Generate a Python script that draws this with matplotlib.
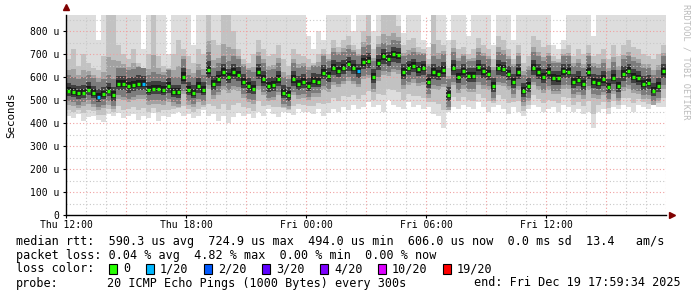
import numpy as np
import matplotlib
matplotlib.use('Agg')
import matplotlib.pyplot as plt
from matplotlib.patches import Rectangle

plt.rcParams['font.family'] = ['DejaVu Sans Mono']

# 15 minute slots, Thu 12:00 .. Fri 17:45, values in microseconds
step = 0.25
median = [540, 535, 530, 530, 545, 530, 515, 525, 540, 520, 570, 570, 560, 565, 570, 570, 545, 550, 550, 545, 560, 535, 535, 600,
          545, 530, 560, 545, 630, 570, 590, 620, 600, 620, 610, 580, 560, 550, 620, 590, 560, 565, 590, 530, 520, 590, 570, 580,
          560, 584, 580, 619, 605, 640, 627, 640, 656, 640, 625, 665, 670, 600, 660, 690, 680, 700, 695, 620, 640, 650, 633, 640,
          580, 620, 615, 630, 520, 640, 600, 625, 605, 605, 642, 625, 615, 560, 640, 635, 615, 580, 620, 540, 560, 640, 620, 600,
          620, 595, 594, 625, 623, 580, 589, 570, 620, 580, 575, 590, 555, 598, 561, 613, 627, 600, 594, 570, 575, 540, 560, 625]
q1 = [495, 490, 480, 490, 500, 485, 470, 480, 495, 475, 520, 515, 505, 515, 520, 520, 495, 500, 500, 495, 505, 490, 485, 540,
      495, 485, 505, 495, 565, 520, 535, 560, 545, 560, 555, 525, 505, 500, 560, 535, 510, 515, 535, 485, 475, 535, 520, 525,
      515, 530, 530, 560, 550, 580, 570, 585, 600, 585, 570, 605, 610, 550, 600, 625, 620, 635, 630, 565, 580, 590, 575, 580,
      525, 565, 560, 570, 470, 580, 545, 565, 550, 550, 580, 565, 560, 510, 580, 575, 560, 525, 560, 490, 510, 580, 560, 545,
      560, 540, 540, 565, 565, 525, 535, 520, 560, 525, 520, 535, 505, 540, 510, 555, 565, 545, 540, 520, 520, 495, 510, 565]
q3 = [610, 600, 590, 600, 610, 595, 580, 590, 610, 590, 640, 640, 630, 635, 645, 640, 610, 620, 615, 610, 630, 600, 600, 680,
      610, 600, 630, 610, 710, 640, 660, 690, 670, 690, 680, 650, 630, 620, 690, 660, 630, 635, 660, 600, 590, 660, 640, 650,
      630, 650, 650, 690, 670, 710, 700, 710, 720, 710, 690, 730, 740, 670, 730, 750, 740, 760, 755, 690, 700, 710, 700, 700,
      650, 690, 680, 700, 590, 710, 670, 690, 670, 670, 710, 690, 680, 630, 710, 700, 680, 650, 690, 610, 630, 710, 690, 670,
      690, 660, 660, 690, 690, 650, 660, 640, 690, 650, 640, 660, 625, 665, 630, 680, 690, 670, 660, 640, 640, 610, 630, 690]
hi2 = [680, 720, 650, 700, 660, 640, 630, 690, 870, 870, 740, 700, 680, 720, 660, 640, 700, 870, 690, 650, 640, 700, 760, 720,
       690, 660, 720, 700, 870, 760, 740, 870, 870, 800, 720, 680, 660, 700, 760, 720, 690, 700, 740, 680, 650, 720, 700, 690,
       680, 660, 700, 720, 700, 760, 730, 760, 780, 740, 720, 800, 870, 720, 780, 870, 870, 870, 820, 740, 760, 770, 730, 720,
       680, 870, 760, 740, 640, 760, 720, 730, 700, 720, 770, 740, 720, 680, 780, 760, 720, 680, 740, 660, 690, 780, 760, 730,
       740, 690, 680, 720, 740, 690, 720, 700, 740, 690, 700, 720, 680, 740, 690, 740, 760, 730, 720, 700, 690, 680, 700, 740]
lo = [430, 420, 440, 410, 425, 430, 415, 405, 440, 430, 445, 420, 430, 440, 415, 430, 420, 445, 410, 430, 425, 440, 450, 430,
      440, 420, 430, 455, 430, 440, 410, 430, 400, 425, 445, 430, 440, 420, 450, 430, 460, 440, 425, 450, 445, 435, 460, 450,
      450, 440, 460, 430, 445, 460, 450, 470, 455, 480, 460, 470, 490, 470, 480, 450, 500, 480, 470, 460, 490, 470, 480, 460,
      470, 440, 430, 380, 450, 470, 460, 480, 470, 460, 490, 470, 450, 470, 480, 460, 440, 470, 450, 430, 460, 480, 470, 450,
      460, 470, 450, 480, 470, 450, 460, 440, 450, 380, 450, 460, 440, 470, 460, 480, 470, 450, 480, 470, 460, 480, 470, 470]
hi = [870, 870, 870, 870, 870, 870, 760, 870, 870, 870, 870, 870, 870, 870, 870, 720, 870, 870, 870, 870, 700, 870, 870, 870,
      870, 740, 870, 870, 870, 870, 870, 870, 870, 870, 870, 870, 870, 870, 870, 870, 870, 870, 870, 870, 870, 870, 870, 870,
      780, 720, 800, 760, 870, 870, 870, 870, 870, 800, 870, 870, 870, 800, 870, 870, 870, 870, 870, 790, 870, 870, 870, 760,
      730, 870, 870, 870, 760, 870, 870, 870, 780, 870, 870, 870, 870, 740, 870, 870, 870, 760, 870, 870, 870, 870, 870, 870,
      870, 740, 720, 760, 870, 870, 870, 870, 870, 780, 870, 870, 870, 870, 870, 870, 870, 870, 870, 870, 870, 870, 870, 870]
loss = [0, 0, 0, 0, 0, 0, 1, 0, 0, 0, 0, 0, 0, 0, 0, 1, 0, 0, 0, 0, 0, 0, 0, 0,
        0, 0, 0, 0, 0, 0, 0, 0, 0, 0, 0, 0, 0, 0, 0, 0, 0, 0, 0, 0, 0, 0, 0, 0,
        0, 0, 0, 0, 0, 0, 0, 0, 0, 0, 1, 0, 0, 0, 0, 0, 0, 0, 0, 0, 0, 0, 0, 0,
        0, 0, 0, 0, 0, 0, 0, 0, 0, 0, 0, 0, 0, 0, 0, 0, 0, 0, 0, 0, 0, 0, 0, 0,
        0, 0, 0, 0, 0, 0, 0, 0, 0, 0, 0, 0, 0, 0, 0, 0, 0, 0, 0, 0, 0, 0, 0, 0]

loss_labels = ['0', '1/20', '2/20', '3/20', '4/20', '10/20', '19/20']
loss_levels = [0, 1, 2, 3, 4, 10, 19]
loss_colors = ['#26ff00', '#00b8ff', '#0059ff', '#5e00ff', '#7e00ff', '#dd00ff', '#ff0000']

tick_pos = [0, 6, 12, 18, 24]
tick_labels = ['Thu 12:00', 'Thu 18:00', 'Fri 00:00', 'Fri 06:00', 'Fri 12:00']

stats_rtt = 'median rtt:  590.3 us avg  724.9 us max  494.0 us min  606.0 us now  0.0 ms sd  13.4   am/s'
stats_loss = 'packet loss: 0.04 % avg  4.82 % max  0.00 % min  0.00 % now'
probe_txt = '20 ICMP Echo Pings (1000 Bytes) every 300s'
end_txt = 'end: Fri Dec 19 17:59:34 2025'

W, H = 697, 297
fig = plt.figure(figsize=(W / 100, H / 100), dpi=100)
ax = fig.add_axes([66 / W, 1 - 215 / H, 600 / W, 200 / H])
fs = 8.5
fs_tick = 7.0

t = np.arange(len(median)) * step
med = np.array(median, float)
lo_a, hi_a, hi2_a, q1_a, q3_a = [np.array(v, float) for v in (lo, hi, hi2, q1, q3)]

# smoke layers, outer (light) to inner (dark)
def smoke(bot, top, col, z):
    ax.bar(t, top - bot, bottom=bot, width=step, align='edge', color=col, lw=0, zorder=z)

smoke(lo_a, hi_a, '#dddddd', 1.0)
smoke(lo_a + (q1_a - lo_a) * 0.4, hi2_a, '#c2c2c2', 1.1)
smoke(q1_a - 15, q3_a + (hi2_a - q3_a) * 0.3, '#a2a2a2', 1.2)
smoke(q1_a, q3_a, '#7c7c7c', 1.3)
smoke((q1_a + med) / 2, (q3_a + med) / 2, '#404040', 1.4)
smoke((3 * med + q1_a) / 4, (3 * med + q3_a) / 4, '#1c1c1c', 1.5)

# grid on top of the smoke
for v in range(50, 870, 50):
    if v % 100:
        ax.axhline(v, color='#c8c8c8', lw=0.8, ls=(0, (1, 2)), zorder=2)
    else:
        ax.axhline(v, color='#f0a0a0', lw=0.8, ls=(0, (1, 2)), zorder=2.1)
for h in range(1, 31):
    if h % 3:
        ax.axvline(h, color='#c8c8c8', lw=0.8, ls=(0, (1, 2)), zorder=2)
    else:
        ax.axvline(h, color='#f0a0a0', lw=0.8, ls=(0, (1, 2)), zorder=2.1)

# median coloured by loss
col_of = dict(zip(loss_levels, loss_colors))
mcols = [col_of[l] for l in loss]
ax.hlines(med, t + 0.05, t + step - 0.05, colors=mcols, lw=2.4, zorder=3)

ax.set_xlim(0, 30)
ax.set_ylim(0, 870)
ax.set_xticks(tick_pos)
ax.set_xticklabels(tick_labels, fontsize=fs_tick)
ax.set_yticks(range(0, 801, 100))
ax.set_yticklabels(['0'] + ['%d u' % v for v in range(100, 801, 100)], fontsize=fs_tick)
ax.tick_params(axis='y', length=2, width=0.8, pad=2.5)
ax.tick_params(axis='x', length=2, width=0.8, pad=1.5)
for s in ('top', 'right'):
    ax.spines[s].set_visible(False)
for s in ('left', 'bottom'):
    ax.spines[s].set_linewidth(1.0)
    ax.spines[s].set_zorder(4)
ax.plot([0], [1.04], marker='^', ms=4, color='#800000', transform=ax.transAxes, clip_on=False)
ax.plot([1.01], [0], marker='>', ms=4, color='#800000', transform=ax.transAxes, clip_on=False)

fig.text(11 / W, 1 - 115 / H, 'Seconds', rotation=90, ha='center', va='center', fontsize=7.8)
fig.text(686 / W, 1 - 4 / H, 'RRDTOOL / TOBI OETIKER', rotation=270, ha='center', va='top',
         fontsize=6.2, color='#bbbbbb')

# legend block
x0 = 16 / W
fig.text(x0, 1 - 241 / H, stats_rtt, fontsize=fs, va='center')
fig.text(x0, 1 - 255 / H, stats_loss, fontsize=fs, va='center')
fig.text(x0, 1 - 269 / H, 'loss color:', fontsize=fs, va='center')
fig.text(x0, 1 - 283 / H, 'probe:', fontsize=fs, va='center')
fig.text(107 / W, 1 - 283 / H, probe_txt, fontsize=fs, va='center')
fig.text(681 / W, 1 - 283 / H, end_txt, fontsize=fs, va='center', ha='right')

xs = 109
for lab, c in zip(loss_labels, loss_colors):
    fig.patches.append(Rectangle((xs / W, 1 - 274 / H), 8 / W, 10 / H, facecolor=c, edgecolor='black',
                                 lw=0.8, transform=fig.transFigure, figure=fig))
    fig.text((xs + 14) / W, 1 - 269 / H, lab, fontsize=fs, va='center')
    xs = xs + 14 + 7 * len(lab) + 16

fig.savefig('out.png', dpi=100)
